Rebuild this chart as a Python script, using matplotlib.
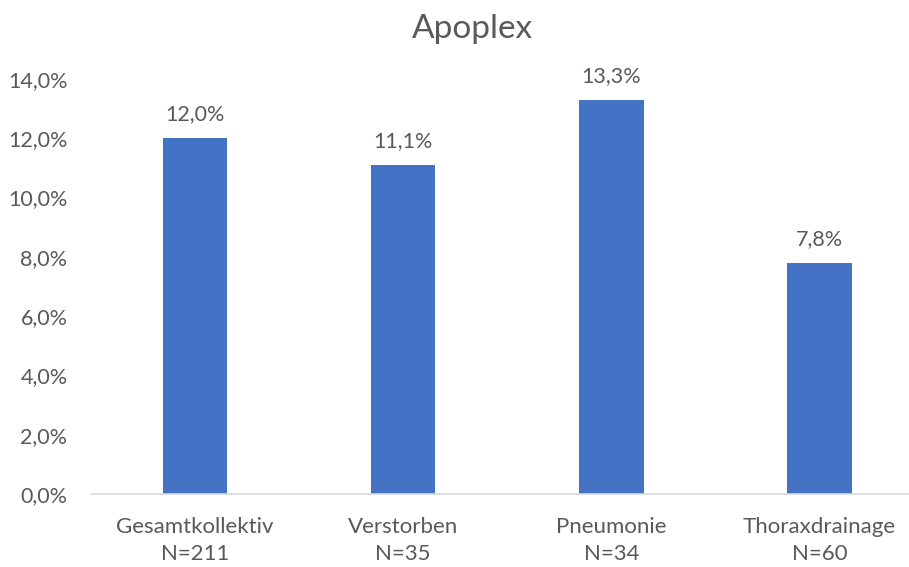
import matplotlib.pyplot as plt
from matplotlib.ticker import FuncFormatter

plt.rcParams['font.family'] = ['Lato', 'DejaVu Sans']

categories = ["Gesamtkollektiv", "Verstorben", "Pneumonie", "Thoraxdrainage"]
group_sizes = [211, 35, 34, 60]
rates = [0.120, 0.111, 0.133, 0.078]
y_ticks = [0.0, 0.02, 0.04, 0.06, 0.08, 0.10, 0.12, 0.14]

bar_color = '#4472C4'
text_color = '#595959'


def pct(v, pos=None):
    return f"{v * 100:.1f}%".replace('.', ',')


W, H = 909, 567
fig = plt.figure(figsize=(W / 100, H / 100), dpi=100)
ax = fig.add_axes([91 / W, (H - 494) / H, (W - 91) / W, (494 - 79) / H])

x = list(range(len(categories)))
bars = ax.bar(x, rates, width=0.31, color=bar_color, zorder=2)

for xi, v in zip(x, rates):
    ax.annotate(pct(v), (xi, v), xytext=(0, 10), textcoords='offset points',
                ha='center', va='bottom', fontsize=15.5, color=text_color)

ax.set_xlim(-0.5, 3.43)
ax.set_ylim(0, 0.14)
ax.set_yticks(y_ticks)
ax.yaxis.set_major_formatter(FuncFormatter(pct))
ax.set_xticks(x)
ax.set_xticklabels([f"{c}\nN={n}" for c, n in zip(categories, group_sizes)],
                   fontsize=16, color=text_color, linespacing=1.45)
ax.tick_params(axis='y', labelsize=15.5, labelcolor=text_color, length=0, pad=17)
ax.tick_params(axis='x', length=0, pad=16.5)

for side in ['top', 'right', 'left']:
    ax.spines[side].set_visible(False)
ax.spines['bottom'].set_color('#D9D9D9')
ax.spines['bottom'].set_linewidth(1.2)

fig.text(472 / W, 1 - 29 / H, "Apoplex", ha='center', va='center',
         fontsize=24, color=text_color)

fig.savefig('out.png', dpi=100, facecolor='white')
